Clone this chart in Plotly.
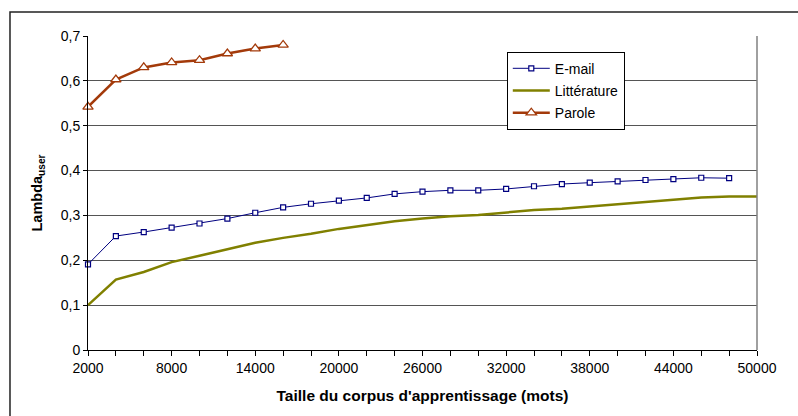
import plotly.graph_objects as go

# Training corpus sizes (words)
sizes = list(range(2000, 50001, 2000))

email = [0.191, 0.254, 0.263, 0.273, 0.282, 0.293, 0.306, 0.318, 0.326, 0.333,
         0.339, 0.348, 0.353, 0.356, 0.356, 0.359, 0.365, 0.370, 0.373, 0.376,
         0.379, 0.381, 0.384, 0.383]
litterature = [0.100, 0.157, 0.174, 0.196, 0.210, 0.225, 0.239, 0.250, 0.259, 0.270,
               0.278, 0.287, 0.293, 0.298, 0.301, 0.306, 0.312, 0.315, 0.320, 0.326,
               0.331, 0.335, 0.340, 0.342, 0.342]
parole = [0.542, 0.603, 0.630, 0.641, 0.646, 0.661, 0.672, 0.680]

y_ticks = [0, 0.1, 0.2, 0.3, 0.4, 0.5, 0.6, 0.7]
y_labels = ["0", "0,1", "0,2", "0,3", "0,4", "0,5", "0,6", "0,7"]
x_ticks = [v for v in sizes if (v - 2000) % 6000 == 0]
x_labels = [str(v) for v in x_ticks]

FONT = "Liberation Sans, Arial, sans-serif"

fig = go.Figure()
fig.add_trace(go.Scatter(
    x=sizes[:len(email)], y=email, name="E-mail", mode="lines+markers",
    line=dict(color="#000080", width=1),
    marker=dict(symbol="square", size=5, color="white",
                line=dict(color="#000080", width=1.2)),
    cliponaxis=False, legendgroup="a"))
fig.add_trace(go.Scatter(
    x=sizes[:len(litterature)], y=litterature, name="Littérature", mode="lines",
    line=dict(color="#808000", width=2.5),
    cliponaxis=False, legendgroup="b"))
fig.add_trace(go.Scatter(
    x=sizes[:len(parole)], y=parole, name="Parole", mode="lines+markers",
    line=dict(color="#A33A0A", width=2.5),
    marker=dict(symbol="triangle-up", size=9, color="white",
                line=dict(color="#A33A0A", width=1.3)),
    cliponaxis=False, legendgroup="c"))

# right border of the plot area and outer chart frame
fig.add_shape(type="line", xref="paper", yref="paper", x0=1, x1=1, y0=0, y1=1,
              line=dict(color="#808080", width=1.5))
fig.add_shape(type="rect", xref="paper", yref="paper",
              x0=-0.1166, x1=1.3, y0=-0.4, y1=1.0764,
              line=dict(color="#222222", width=1.5), layer="below")

fig.update_layout(
    width=798, height=416,
    margin=dict(l=88, r=41, t=36, b=66),
    paper_bgcolor="white", plot_bgcolor="white",
    font=dict(family=FONT, size=14, color="black"),
    showlegend=True,
    legend=dict(x=0.626, y=0.95, xanchor="left", yanchor="top",
                bordercolor="black", borderwidth=1, bgcolor="white",
                font=dict(family=FONT, size=14, color="black"),
                traceorder="grouped", tracegroupgap=1, itemwidth=37),
    xaxis=dict(range=[2000, 50000], tickmode="array", tickvals=x_ticks,
               ticktext=x_labels, ticks="outside", ticklen=5, tickcolor="black",
               minor=dict(tickmode="array", tickvals=sizes, ticks="outside",
                          ticklen=5, tickcolor="black", showgrid=False),
               showline=True, linecolor="black", linewidth=1,
               showgrid=False, zeroline=False,
               tickfont=dict(size=14),
               title=dict(text="<b>Taille du corpus d'apprentissage (mots)</b>",
                          font=dict(size=15.5), standoff=15)),
    yaxis=dict(range=[0, 0.7], tickmode="array", tickvals=y_ticks,
               ticktext=y_labels, ticks="outside", ticklen=4, tickcolor="black",
               showline=True, linecolor="black", linewidth=1,
               showgrid=True, gridcolor="#555555", gridwidth=1, zeroline=False,
               tickfont=dict(size=14),
               title=dict(text="<b>Lambda<sub>user</sub></b>",
                          font=dict(size=14.5), standoff=14)),
)

fig.write_html("out.html")
